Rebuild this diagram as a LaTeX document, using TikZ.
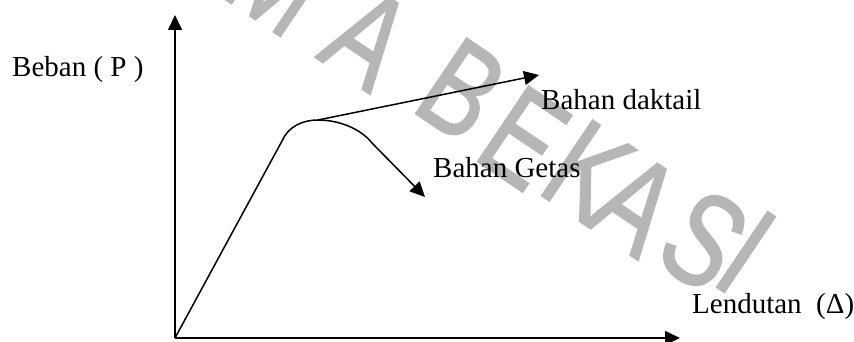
\documentclass[tikz,border=0pt]{standalone}
\usepackage{fontspec}
\setmainfont{Liberation Serif}
\newfontfamily\wmfont[FakeBold=1.5]{Liberation Sans}
\usetikzlibrary{arrows.meta}
\definecolor{wmgray}{RGB}{182,182,182}
\tikzset{
  lbl/.style={anchor=base west, inner sep=0pt, font=\fontsize{29}{32}\selectfont},
  wm/.style={inner sep=0pt, text=wmgray, rotate=-34, xscale=0.76, font=\wmfont\fontsize{132}{132}\selectfont},
  ax/.style={line width=1.7pt, -{Triangle[length=15pt,width=14pt]}},
  crv/.style={line width=1.5pt},
  arr/.style={line width=1.5pt, -{Triangle[length=15pt,width=14pt]}}
}
\begin{document}
\begin{tikzpicture}[x=1pt,y=-1pt]
\useasboundingbox (0,0) rectangle (854,342);
% watermark
\node[wm] (w1) at (278,-20) {M};
\node[wm] (w2) at (368,38) {A};
\node[wm] (w3) at (462,90) {B};
\node[wm] (w4) at (524,138) {E};
\node[wm] (w5) at (588,172) {K};
\node[wm] (w6) at (636,204) {A};
\node[wm] (w7) at (704,240) {S};
\node[wm] (w8) at (746,252) {I};
% points
\coordinate (O) at (175,338);
\coordinate (Ytip) at (175,15);
\coordinate (Xtip) at (680,338);
\coordinate (Y1) at (282,141);
\coordinate (Pk) at (318,120);
\coordinate (Y2) at (372,143);
\coordinate (Dtip) at (539,75);
\coordinate (Gtip) at (425,197);
% axes
\draw[ax] (O) -- (Ytip);
\draw[ax] (O) -- (Xtip);
% curve
\draw[crv] (O) -- (Y1) .. controls (288,127) and (302,120) .. (Pk)
  .. controls (338,120) and (360,128) .. (Y2);
\draw[arr] (Y2) -- (Gtip);
\draw[arr] (Pk) -- (Dtip);
% labels
\node[lbl] (beban) at (12,77) {Beban ( P )};
\node[lbl] (dak) at (541,110) {Bahan daktail};
\node[lbl] (get) at (433,178) {Bahan Getas};
\node[lbl] (len) at (692,313) {Lendutan~ (Δ)};
\end{tikzpicture}
\end{document}
